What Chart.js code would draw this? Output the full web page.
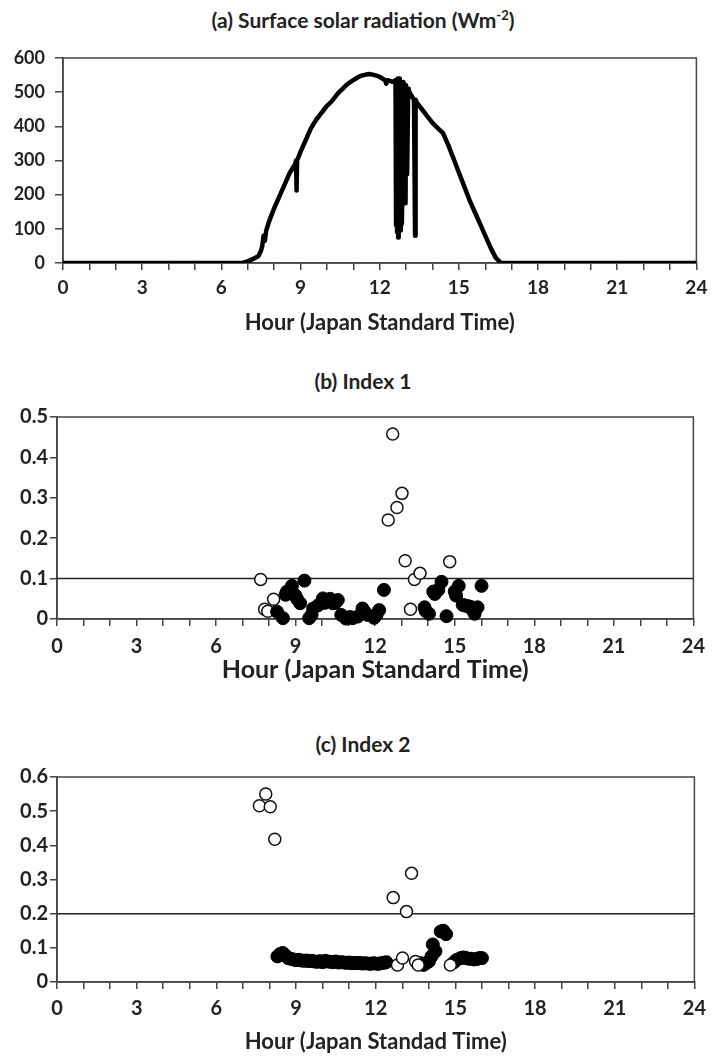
<!DOCTYPE html>
<html>
<head>
<meta charset="utf-8">
<script src="https://cdn.jsdelivr.net/npm/chart.js@4.4.0/dist/chart.umd.min.js"></script>
<style>
    body { margin: 0; background: #fff; }
    .panel { position: absolute; left: 0; width: 714px; }
    .panel-title {
        position: absolute; left: 0; width: 726px; text-align: center;
        font: bold 21px Lato, sans-serif; line-height: 25px; color: #222;
    }
    .panel-title sup { font-size: 13px; line-height: 0; }
</style>
</head>
<body>
<div class="panel-title" style="top:7px">(a) Surface solar radiation (Wm<sup>-2</sup>)</div>
<div class="panel-title" style="top:368px">(b) Index 1</div>
<div class="panel-title" style="top:731px">(c) Index 2</div>
<div class="panel" style="top:0px;height:345px"><canvas id="solarChart"></canvas></div>
<div class="panel" style="top:345px;height:355px"><canvas id="index1Chart"></canvas></div>
<div class="panel" style="top:720px;height:337px"><canvas id="index2Chart"></canvas></div>
<script>
// --- DATA ---
const hourTicks = [0, 3, 6, 9, 12, 15, 18, 21, 24];

// (a) surface solar radiation, Wm-2
const solarHour = [0, 6.8, 7.0, 7.2, 7.4, 7.5, 7.55, 7.6, 7.65, 7.7, 7.8, 7.9, 8.0, 8.2, 8.4, 8.6, 8.8, 8.83, 8.85, 8.87,
    9.0, 9.1, 9.2, 9.3, 9.4, 9.5, 9.6, 9.7, 9.8, 9.9, 10.0, 10.1, 10.2, 10.3, 10.4, 10.5, 10.6, 10.7, 10.8, 10.9,
    11.0, 11.1, 11.2, 11.3, 11.4, 11.5, 11.6, 11.7, 11.8, 11.9, 12.0, 12.1, 12.2, 12.25, 12.3, 12.5,
    12.6, 12.62, 12.64, 12.66, 12.68, 12.7, 12.72, 12.74, 12.76, 12.8, 12.82, 12.84, 12.88, 12.9, 12.94, 12.98, 13.0,
    13.04, 13.08, 13.1, 13.2, 13.3, 13.34, 13.36, 13.4, 13.6, 13.8, 14.0, 14.2, 14.4, 14.6, 14.8, 15.0, 15.2, 15.4,
    15.6, 15.8, 16.0, 16.2, 16.4, 16.6, 24];
const solarValue = [0, 0, 5, 12, 20, 35, 50, 80, 65, 95, 120, 140, 160, 195, 230, 265, 290, 300, 212, 300,
    325, 343, 360, 378, 395, 408, 420, 430, 440, 450, 460, 467, 475, 485, 495, 503, 510, 518, 525, 530,
    535, 540, 545, 548, 550, 552, 553, 552, 550, 548, 545, 540, 535, 525, 535, 530,
    535, 110, 530, 90, 540, 75, 540, 100, 540, 95, 530, 115, 330, 530, 520, 175, 520,
    260, 510, 505, 490, 478, 80, 478, 470, 450, 430, 410, 395, 380, 345, 305, 265, 225, 185,
    150, 115, 80, 45, 15, 0, 0];

// (b) Index 1
const index1Threshold = 0.1;
const index1FilledHour = [8.30, 8.52, 8.62, 8.67, 8.86, 8.98, 9.05, 9.17, 9.33, 9.51, 9.60, 9.66, 9.85, 10.03, 10.10,
    10.22, 10.30, 10.40, 10.50, 10.59, 10.72, 10.90, 11.05, 11.15, 11.34, 11.52, 11.60, 11.71, 11.96, 12.05, 12.15, 12.33,
    13.86, 13.90, 14.03, 14.19, 14.25, 14.38, 14.50, 14.69, 15.00, 15.05, 15.15, 15.30, 15.40, 15.49, 15.60, 15.67,
    15.75, 15.86, 16.01];
const index1FilledValue = [0.018, 0.002, 0.060, 0.068, 0.082, 0.059, 0.050, 0.039, 0.095, 0.002, 0.010, 0.026, 0.034, 0.051, 0.040,
    0.047, 0.050, 0.039, 0.040, 0.047, 0.010, 0.001, 0.005, 0.002, 0.006, 0.026, 0.018, 0.010, 0.003, 0.010, 0.022, 0.072,
    0.029, 0.020, 0.013, 0.068, 0.062, 0.072, 0.092, 0.007, 0.068, 0.058, 0.082, 0.035, 0.033, 0.032, 0.030, 0.022,
    0.013, 0.029, 0.082];
const index1OpenHour = [7.68, 7.83, 7.95, 8.17, 12.49, 12.66, 12.82, 13.01, 13.13, 13.33, 13.48, 13.69, 14.81];
const index1OpenValue = [0.098, 0.024, 0.019, 0.049, 0.245, 0.458, 0.276, 0.311, 0.144, 0.024, 0.098, 0.113, 0.142];

// (c) Index 2
const index2Threshold = 0.2;
const index2FilledHour = [8.3, 8.4, 8.5, 8.6, 8.7, 8.8, 8.9, 9.0, 9.1, 9.2, 9.3, 9.4, 9.5, 9.6, 9.7, 9.8, 9.9, 10.0,
    10.1, 10.2, 10.3, 10.4, 10.5, 10.6, 10.7, 10.8, 10.9, 11.0, 11.1, 11.2, 11.3, 11.4, 11.5, 11.6, 11.7, 11.8, 11.9,
    12.0, 12.1, 12.2, 12.3, 12.4, 13.7, 13.8, 13.9, 14.0, 14.1, 14.15, 14.25, 14.45, 14.55, 14.65, 14.95, 15.05, 15.2,
    15.3, 15.4, 15.5, 15.6, 15.7, 15.8, 15.9, 16.0];
const index2FilledValue = [0.075, 0.082, 0.085, 0.078, 0.070, 0.068, 0.066, 0.064, 0.065, 0.063, 0.062, 0.063, 0.061, 0.062, 0.060, 0.059, 0.061, 0.058,
    0.062, 0.060, 0.059, 0.058, 0.060, 0.057, 0.058, 0.057, 0.056, 0.057, 0.055, 0.056, 0.055, 0.056, 0.054, 0.055, 0.054, 0.053, 0.055,
    0.054, 0.053, 0.055, 0.056, 0.058, 0.055, 0.050, 0.055, 0.060, 0.075, 0.110, 0.090, 0.148, 0.150, 0.140, 0.058, 0.065, 0.070,
    0.072, 0.070, 0.068, 0.068, 0.066, 0.067, 0.070, 0.070];
const index2OpenHour = [7.62, 7.86, 8.03, 8.20, 12.66, 12.82, 13.01, 13.16, 13.35, 13.50, 13.60, 14.81];
const index2OpenValue = [0.516, 0.550, 0.513, 0.418, 0.247, 0.050, 0.070, 0.206, 0.318, 0.060, 0.050, 0.050];

// --- STYLE ---
const ink = '#222222';
const axisGrey = '#444444';
Chart.defaults.font.family = 'Lato';
Chart.defaults.font.weight = 'bold';
Chart.defaults.color = ink;

function toPoints(xs, ys) {
    return xs.map((x, i) => ({ x: x, y: ys[i] }));
}

// draws the closed frame round the plot area, under the data
const frameBox = {
    id: 'frameBox',
    beforeDatasetsDraw(chart) {
        const a = chart.chartArea;
        const ctx = chart.ctx;
        ctx.save();
        ctx.strokeStyle = axisGrey;
        ctx.lineWidth = 1.5;
        ctx.strokeRect(a.left, a.top, a.right - a.left, a.bottom - a.top);
        ctx.restore();
    }
};

function hourAxis(cfg) {
    return {
        type: 'linear',
        min: 0,
        max: 24,
        afterFit: s => { s.height = cfg.height; },
        afterBuildTicks: s => { s.ticks = Array.from({ length: 25 }, (_, i) => ({ value: i })); },
        grid: { drawOnChartArea: false, drawTicks: true, tickLength: 7, color: axisGrey, lineWidth: 1.5 },
        border: { display: true, color: axisGrey, width: 1.5 },
        ticks: {
            autoSkip: false,
            maxRotation: 0,
            padding: cfg.tickPad,
            font: { size: cfg.tickSize },
            callback: v => hourTicks.includes(v) ? String(v) : ''
        },
        title: {
            display: true,
            text: cfg.title,
            font: { size: cfg.titleSize },
            padding: { top: 0, bottom: cfg.titleBottom }
        }
    };
}

function valueAxis(cfg) {
    return {
        type: 'linear',
        min: cfg.min,
        max: cfg.max,
        afterFit: s => { s.width = cfg.width; },
        grid: { drawOnChartArea: false, drawTicks: true, tickLength: cfg.tickLen, color: axisGrey, lineWidth: 1.5 },
        border: { display: true, color: axisGrey, width: 1.5 },
        ticks: {
            stepSize: cfg.step,
            padding: cfg.tickPad,
            font: { size: cfg.tickSize },
            callback: cfg.format
        }
    };
}

function thresholdLine(y) {
    return {
        type: 'line',
        data: [{ x: 0, y: y }, { x: 24, y: y }],
        borderColor: ink,
        borderWidth: 1.5,
        pointRadius: 0,
        order: 3
    };
}

function filledDots(xs, ys, order) {
    return {
        data: toPoints(xs, ys),
        backgroundColor: '#000',
        borderColor: '#000',
        borderWidth: 1,
        pointRadius: 6.5,
        clip: false,
        order: order
    };
}

function openDots(xs, ys, order) {
    return {
        data: toPoints(xs, ys),
        backgroundColor: '#fff',
        borderColor: '#111',
        borderWidth: 1.5,
        pointRadius: 6,
        clip: false,
        order: order
    };
}

const decimal = v => v === 0 ? '0' : v.toFixed(1);
const basePlugins = { legend: { display: false }, tooltip: { enabled: false }, title: { display: false } };

// --- (a) SURFACE SOLAR RADIATION ---
new Chart(document.getElementById('solarChart'), {
    type: 'line',
    data: {
        datasets: [{
            data: toPoints(solarHour, solarValue),
            borderColor: '#000',
            borderWidth: 4.5,
            borderJoinStyle: 'round',
            borderCapStyle: 'round',
            pointRadius: 0,
            tension: 0
        }]
    },
    options: {
        responsive: true,
        maintainAspectRatio: false,
        animation: false,
        layout: { padding: { left: 0, right: 12, top: 58, bottom: 0 } },
        plugins: basePlugins,
        scales: {
            x: hourAxis({ height: 82, tickPad: 6.6, tickSize: 19, title: 'Hour (Japan Standard Time)', titleSize: 22, titleBottom: 8.8 }),
            y: valueAxis({ min: 0, max: 600, step: 100, width: 63, tickLen: 8, tickPad: 10, tickSize: 18, format: v => String(v) })
        }
    },
    plugins: [frameBox]
});

// --- (b) INDEX 1 ---
new Chart(document.getElementById('index1Chart'), {
    type: 'scatter',
    data: {
        datasets: [
            filledDots(index1FilledHour, index1FilledValue, 1),
            openDots(index1OpenHour, index1OpenValue, 2),
            thresholdLine(index1Threshold)
        ]
    },
    options: {
        responsive: true,
        maintainAspectRatio: false,
        animation: false,
        layout: { padding: { left: 0, right: 12, top: 72, bottom: 0 } },
        plugins: basePlugins,
        scales: {
            x: hourAxis({ height: 81, tickPad: 9, tickSize: 20, title: 'Hour (Japan Standard Time)', titleSize: 25, titleBottom: 15 }),
            y: valueAxis({ min: 0, max: 0.5, step: 0.1, width: 57, tickLen: 7, tickPad: 2, tickSize: 20, format: decimal })
        }
    },
    plugins: [frameBox]
});

// --- (c) INDEX 2 ---
new Chart(document.getElementById('index2Chart'), {
    type: 'scatter',
    data: {
        datasets: [
            filledDots(index2FilledHour, index2FilledValue, 2),
            openDots(index2OpenHour, index2OpenValue, 1),
            thresholdLine(index2Threshold)
        ]
    },
    options: {
        responsive: true,
        maintainAspectRatio: false,
        animation: false,
        layout: { padding: { left: 0, right: 12, top: 57, bottom: 0 } },
        plugins: basePlugins,
        scales: {
            x: hourAxis({ height: 75, tickPad: 8, tickSize: 20, title: 'Hour (Japan Standad Time)', titleSize: 22, titleBottom: 1.8 }),
            y: valueAxis({ min: 0, max: 0.6, step: 0.1, width: 57, tickLen: 7, tickPad: 2, tickSize: 20, format: decimal })
        }
    },
    plugins: [frameBox]
});
</script>
</body>
</html>
